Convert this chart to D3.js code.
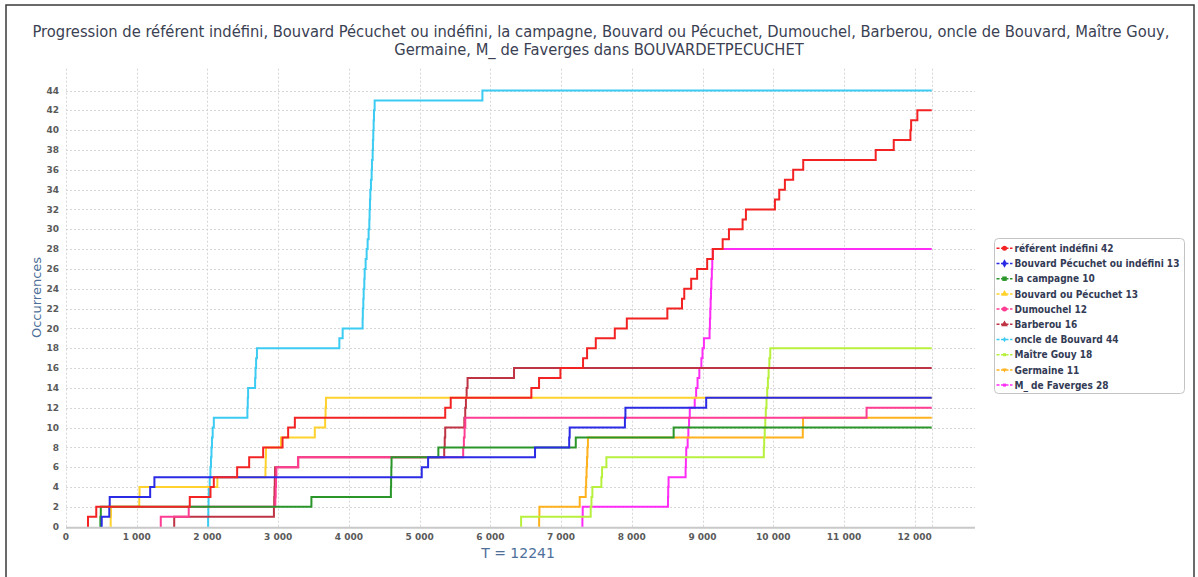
<!DOCTYPE html>
<html>
<head>
<meta charset="utf-8">
<script src="https://cdn.jsdelivr.net/npm/d3@7"></script>
<style>
  body { margin: 0; background: #fff; }
  svg { display: block; }
</style>
</head>
<body>
<div id="chart"></div>
<script>
// Event positions (token index in the text) for each referent; the count goes up by one at each.
const referentIndefini = [311, 428, 1750, 2043, 2090, 2420, 2590, 2788, 3062, 3141, 3236, 5362, 5440, 6580, 6689, 6991, 7311, 7368, 7491, 7760, 7930, 8503, 8710, 8742, 8840, 8924, 9066, 9146, 9285, 9374, 9567, 9614, 10024, 10085, 10165, 10282, 10424, 11449, 11704, 11940, 11950, 12038];
const bouvardPecuchetOuIndefini = [505, 612, 618, 1190, 1250, 5030, 5120, 6632, 7115, 7122, 7903, 7910, 9052];
const laCampagne = [486, 492, 3470, 4594, 4597, 4600, 4603, 5265, 7208, 8592];
const bouvardOuPecuchet = [632, 636, 1036, 1040, 2140, 2820, 2824, 2828, 3040, 3518, 3664, 3670, 3676];
const dumouchel = [1340, 1735, 2960, 2965, 2970, 2975, 3280, 5616, 5626, 5636, 5646, 11320];
const barberou = [1530, 2940, 2944, 2948, 2952, 2956, 3284, 5348, 5355, 5362, 5632, 5645, 5655, 5665, 5678, 6335];
const oncleDeBouvard = [2010, 2013, 2016, 2020, 2032, 2042, 2050, 2057, 2064, 2074, 2090, 2565, 2570, 2575, 2674, 2680, 2688, 2700, 3865, 3912, 4194, 4197, 4204, 4209, 4218, 4223, 4237, 4251, 4265, 4279, 4289, 4293, 4298, 4303, 4312, 4322, 4326, 4336, 4340, 4345, 4350, 4355, 4364, 5888];
const maitreGouy = [6435, 7419, 7430, 7443, 7570, 7580, 7641, 9867, 9872, 9880, 9888, 9895, 9905, 9915, 9925, 9935, 9945, 9958];
const germaine = [6690, 6694, 7264, 7349, 7355, 7361, 7367, 7373, 7380, 10418, 10422];
const mDeFaverges = [7302, 7306, 8512, 8515, 8520, 8761, 8765, 8770, 8790, 8800, 8810, 8820, 8890, 8910, 8930, 8955, 8984, 9000, 9020, 9100, 9105, 9110, 9115, 9120, 9125, 9132, 9138, 9145];

const seriesNames = ["référent indéfini", "Bouvard Pécuchet ou indéfini", "la campagne", "Bouvard ou Pécuchet", "Dumouchel", "Barberou", "oncle de Bouvard", "Maître Gouy", "Germaine", "M_ de Faverges"];
const seriesEvents = [referentIndefini, bouvardPecuchetOuIndefini, laCampagne, bouvardOuPecuchet, dumouchel, barberou, oncleDeBouvard, maitreGouy, germaine, mDeFaverges];
const seriesColors = ["#f42323", "#2b2be6", "#2a962a", "#ffd22e", "#ff3d93", "#bf3444", "#3ccbf2", "#b8f03e", "#ffb21e", "#ff2cf5"];
const legendSymbols = [d3.symbolCircle, d3.symbolDiamond, d3.symbolSquare, d3.symbolTriangle, d3.symbolCircle, d3.symbolTriangle, d3.symbolDiamond, d3.symbolSquare, d3.symbolTriangle, d3.symbolSquare];

const totalTokens = 12241;
const yTicks = d3.range(0, 45, 2);
const xTicks = d3.range(0, 12001, 1000);
const titleLines = [
    "Progression de référent indéfini, Bouvard Pécuchet ou indéfini, la campagne, Bouvard ou Pécuchet, Dumouchel, Barberou, oncle de Bouvard, Maître Gouy,",
    "Germaine, M_ de Faverges dans BOUVARDETPECUCHET"
];

const width = 1198;
const height = 577;
const plot = { left: 66, right: 975, top: 68.7, bottom: 526.7 };

const svg = d3.select("#chart")
    .append("svg")
    .attr("width", width)
    .attr("height", height);

// outer frame
svg.append("rect")
    .attr("x", 6).attr("y", 5)
    .attr("width", 1188).attr("height", 620)
    .attr("fill", "#fff")
    .attr("stroke", "#3a3a3a")
    .attr("stroke-width", 1.5);

// scales
const x = d3.scaleLinear().domain([0, totalTokens * 1.05]).range([plot.left, plot.right]);
const y = d3.scaleLinear().domain([0, 44 * 1.05]).range([plot.bottom, plot.top]);

const fr = d3.formatLocale({ decimal: ",", thousands: "\u00a0", grouping: [3], currency: ["", ""] });
const fmt = fr.format(",d");

// fit a text element's font-size so that it spans the given width
function fitWidth(sel, target) {
    const w = sel.node().getComputedTextLength();
    const fs = parseFloat(sel.attr("font-size"));
    const nfs = fs * target / w;
    sel.attr("font-size", nfs);
    return nfs;
}

// title
const t1 = svg.append("text")
    .attr("x", 601).attr("y", 37)
    .attr("text-anchor", "middle")
    .attr("font-family", "DejaVu Sans Condensed, DejaVu Sans, sans-serif")
    .attr("font-size", 15)
    .attr("fill", "#3a4152")
    .text(titleLines[0]);
const titleSize = fitWidth(t1, 1138);
svg.append("text")
    .attr("x", 599).attr("y", 55)
    .attr("text-anchor", "middle")
    .attr("font-family", "DejaVu Sans Condensed, DejaVu Sans, sans-serif")
    .attr("font-size", titleSize)
    .attr("fill", "#3a4152")
    .text(titleLines[1]);

// grid
const grid = svg.append("g")
    .attr("stroke", "#d6d6d6")
    .attr("stroke-width", 1)
    .attr("stroke-dasharray", "2,2");
grid.selectAll("line.h")
    .data(yTicks)
    .enter()
    .append("line")
    .attr("x1", plot.left).attr("x2", plot.right)
    .attr("y1", (d) => Math.round(y(d)) + 0.5)
    .attr("y2", (d) => Math.round(y(d)) + 0.5);
grid.selectAll("line.v")
    .data(xTicks.concat([totalTokens]))
    .enter()
    .append("line")
    .attr("x1", (d) => Math.round(x(d)) + 0.5)
    .attr("x2", (d) => Math.round(x(d)) + 0.5)
    .attr("y1", plot.top).attr("y2", plot.bottom);

// x axis line
svg.append("line")
    .attr("x1", plot.left).attr("x2", plot.right)
    .attr("y1", plot.bottom + 1).attr("y2", plot.bottom + 1)
    .attr("stroke", "#c8c8c8")
    .attr("stroke-width", 2);

// tick labels
const tickFont = "DejaVu Sans, sans-serif";
svg.append("g")
    .selectAll("text")
    .data(yTicks)
    .enter()
    .append("text")
    .attr("x", 59)
    .attr("y", (d) => y(d))
    .attr("dy", "0.35em")
    .attr("text-anchor", "end")
    .attr("font-family", tickFont)
    .attr("font-weight", "bold")
    .attr("font-size", 9)
    .attr("fill", "#5a5a5a")
    .text((d) => d);
svg.append("g")
    .selectAll("text")
    .data(xTicks)
    .enter()
    .append("text")
    .attr("x", (d) => x(d))
    .attr("y", 540)
    .attr("text-anchor", "middle")
    .attr("font-family", tickFont)
    .attr("font-weight", "bold")
    .attr("font-size", 9)
    .attr("fill", "#5a5a5a")
    .text((d) => fmt(d));

// axis titles
svg.append("text")
    .attr("transform", "translate(40.5,297.5) rotate(-90)")
    .attr("text-anchor", "middle")
    .attr("font-family", "DejaVu Sans, sans-serif")
    .attr("font-size", 13)
    .attr("fill", "#4d6f99")
    .text("Occurrences");
svg.append("text")
    .attr("x", 518).attr("y", 558)
    .attr("text-anchor", "middle")
    .attr("font-family", "DejaVu Sans, sans-serif")
    .attr("font-size", 14)
    .attr("fill", "#4d6f99")
    .text("T = " + totalTokens);

// step lines: start at 0 on the first event, +1 at each event, run to T
const line = d3.line()
    .x((d) => x(d[0]))
    .y((d) => y(d[1]))
    .curve(d3.curveStepAfter);

const series = seriesEvents.map((ev, i) => {
    const pts = [[ev[0], 0]];
    ev.forEach((e, k) => pts.push([e, k + 1]));
    pts.push([totalTokens, ev.length]);
    return { name: seriesNames[i], color: seriesColors[i], pts: pts, n: ev.length, i: i };
});

// JFreeChart-like reverse rendering order: first series on top
svg.append("g")
    .attr("fill", "none")
    .selectAll("path")
    .data(series.slice().reverse())
    .enter()
    .append("path")
    .attr("d", (d) => line(d.pts))
    .attr("stroke", (d) => d.color)
    .attr("stroke-width", 2)
    .attr("stroke-linejoin", "miter");

// legend
const legend = svg.append("g");
legend.append("rect")
    .attr("x", 994.5).attr("y", 238.5)
    .attr("width", 190).attr("height", 155)
    .attr("rx", 4)
    .attr("fill", "#fff")
    .attr("stroke", "#c4c4c4");

const rowY = (i) => 248.3 + i * 15.2;
const items = legend.selectAll("g.item")
    .data(series)
    .enter()
    .append("g")
    .attr("transform", (d) => `translate(0,${rowY(d.i)})`);
items.append("line")
    .attr("x1", 996.5).attr("x2", 1012.5)
    .attr("y1", 0).attr("y2", 0)
    .attr("stroke", (d) => d.color)
    .attr("stroke-width", 1.5)
    .attr("stroke-dasharray", "3,1.5");
items.append("path")
    .attr("transform", (d) => `translate(1004.5,0)` + (d.i === 8 ? " rotate(180)" : ""))
    .attr("d", (d) => d3.symbol().type(legendSymbols[d.i]).size(d.i >= 6 ? 9 : 20)())
    .attr("fill", (d) => d.color);
const labels = items.append("text")
    .attr("x", 1014.5)
    .attr("dy", "0.36em")
    .attr("font-family", "DejaVu Sans Condensed, DejaVu Sans, sans-serif")
    .attr("font-weight", "bold")
    .attr("font-size", 10)
    .attr("fill", "#333b55")
    .text((d) => `${d.name} ${d.n}`);
const longest = labels.filter((d) => d.i === 1);
const legendSize = fitWidth(longest, 165);
labels.attr("font-size", legendSize);
</script>
</body>
</html>
